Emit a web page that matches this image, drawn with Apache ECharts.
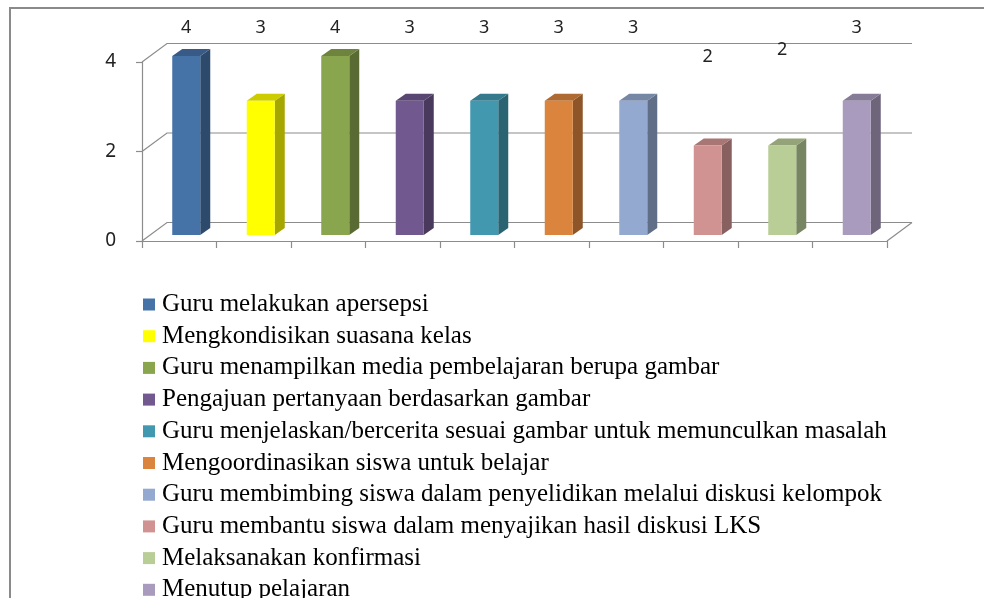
<!DOCTYPE html>
<html>
<head>
<meta charset="utf-8">
<script src="https://cdn.jsdelivr.net/npm/echarts@6/dist/echarts.min.js"></script>
<style>
  html, body { margin: 0; padding: 0; background: #fff; }
  #chart { width: 984px; height: 598px; }
</style>
</head>
<body>
<div id="chart"></div>
<script>
// Activity names (one bar each) and their scores
const categories = [
  'Guru melakukan apersepsi',
  'Mengkondisikan suasana kelas',
  'Guru menampilkan media pembelajaran berupa gambar',
  'Pengajuan pertanyaan berdasarkan gambar',
  'Guru menjelaskan/bercerita sesuai gambar untuk memunculkan masalah',
  'Mengoordinasikan siswa untuk belajar',
  'Guru membimbing siswa dalam penyelidikan melalui diskusi kelompok',
  'Guru membantu siswa dalam menyajikan hasil diskusi LKS',
  'Melaksanakan konfirmasi',
  'Menutup pelajaran'
];
const values = [4, 3, 4, 3, 3, 3, 3, 2, 2, 3];
const yTicks = [0, 2, 4];

// Styling
const colors = ['#4572A7', '#FFFF00', '#89A54E', '#71588F', '#4198AF',
                '#DB843D', '#93A9CF', '#D19392', '#B9CD96', '#A99BBD'];
const labelDrop = [0, 0, 0, 0, 0, 0, 0, 29, 22, 0];
const BACK = [25, -18.5];     // offset of the back wall from the front plane
const FACE = [7, -6];         // offset of the bar front faces
const DEPTH = [10, -7];       // bar depth vector
const BAR_W = 28;
const LINE = '#8c8c8c';

function shade(hex, k) {
  const n = parseInt(hex.slice(1), 16);
  const r = Math.round(((n >> 16) & 255) * k);
  const g = Math.round(((n >> 8) & 255) * k);
  const b = Math.round((n & 255) * k);
  return 'rgb(' + r + ',' + g + ',' + b + ')';
}

// Back wall gridlines, floor and depth edges
function renderWalls(params, api) {
  const cs = params.coordSys;
  const left = cs.x, right = cs.x + cs.width;
  const children = [];
  const st = { stroke: LINE, lineWidth: 1.2, fill: null };
  yTicks.forEach(function (v) {
    const y = api.coord([0, v])[1];
    children.push({ type: 'polyline', shape: { points: [
      [left, y], [left + BACK[0], y + BACK[1]], [right + BACK[0], y + BACK[1]]
    ] }, style: st });
  });
  const y0 = api.coord([0, 0])[1];
  children.push({ type: 'line', shape: {
    x1: right, y1: y0, x2: right + BACK[0], y2: y0 + BACK[1]
  }, style: st });
  return { type: 'group', children: children };
}

function makeBarRenderer(i) {
  return function (params, api) {
    const v = api.value(1);
    const base = api.coord([api.value(0), 0]);
    const top = api.coord([api.value(0), v]);
    const cx = base[0] + FACE[0];
    const x0 = cx - BAR_W / 2, x1 = cx + BAR_W / 2;
    const yb = base[1] + FACE[1], yt = top[1] + FACE[1];
    const c = api.visual('color');
    const yMax = api.coord([0, 4])[1] + BACK[1];
    return {
      type: 'group',
      children: [
        { type: 'polygon', shape: { points: [
            [x1, yb], [x1 + DEPTH[0], yb + DEPTH[1]],
            [x1 + DEPTH[0], yt + DEPTH[1]], [x1, yt]] },
          style: { fill: shade(c, 0.65) } },
        { type: 'polygon', shape: { points: [
            [x0, yt], [x1, yt], [x1 + DEPTH[0], yt + DEPTH[1]],
            [x0 + DEPTH[0], yt + DEPTH[1]]] },
          style: { fill: shade(c, 0.8) } },
        { type: 'rect', shape: { x: x0, y: yt, width: BAR_W, height: yb - yt },
          style: { fill: c } },
        { type: 'text', x: cx, y: yMax - 15.5 + labelDrop[i],
          style: { text: String(v), fill: '#222', font: '18px "Noto Sans"',
                   align: 'center', verticalAlign: 'middle' } }
      ]
    };
  };
}

const series = [{
  type: 'custom', name: '_walls', silent: true, z: 1,
  renderItem: renderWalls, data: [[0, 0]], encode: { x: 0, y: 1 }
}];
categories.forEach(function (name, i) {
  series.push({
    type: 'custom', name: name, z: 2,
    itemStyle: { color: colors[i] },
    renderItem: makeBarRenderer(i),
    data: [[i, values[i]]],
    encode: { x: 0, y: 1 }
  });
});

const chart = echarts.init(document.getElementById('chart'), null, { renderer: 'canvas' });
chart.setOption({
  animation: false,
  color: colors,
  graphic: [{
    type: 'rect', z: 0, silent: true,
    shape: { x: 10, y: 8, width: 1100, height: 800 },
    style: { fill: null, stroke: '#8a8a8a', lineWidth: 2 }
  }],
  grid: { left: 142, right: 97, top: 62, bottom: 357 },
  xAxis: {
    type: 'category',
    data: categories.map(function (_, i) { return i; }),
    boundaryGap: true,
    axisLine: { lineStyle: { color: LINE, width: 1.2 } },
    axisTick: { show: true, interval: 0, length: 7, lineStyle: { color: LINE, width: 1.2 } },
    axisLabel: { show: false },
    splitLine: { show: false }
  },
  yAxis: {
    type: 'value', min: 0, max: 4, interval: 2,
    axisLine: { show: true, lineStyle: { color: LINE, width: 1.2 } },
    axisTick: { show: true, length: 6, lineStyle: { color: LINE, width: 1.2 } },
    axisLabel: { margin: 26, fontSize: 19, color: '#222', fontFamily: 'Noto Sans' },
    splitLine: { show: false }
  },
  legend: {
    data: categories,
    orient: 'vertical',
    left: 138, top: 287, height: 400,
    padding: 5,
    itemWidth: 12, itemHeight: 12, itemGap: 6.7,
    icon: 'rect',
    selectedMode: false,
    textStyle: { fontFamily: 'Liberation Serif', fontSize: 25, color: '#000', lineHeight: 25, padding: [0, 0, 0, 2] }
  },
  series: series
});
</script>
</body>
</html>
